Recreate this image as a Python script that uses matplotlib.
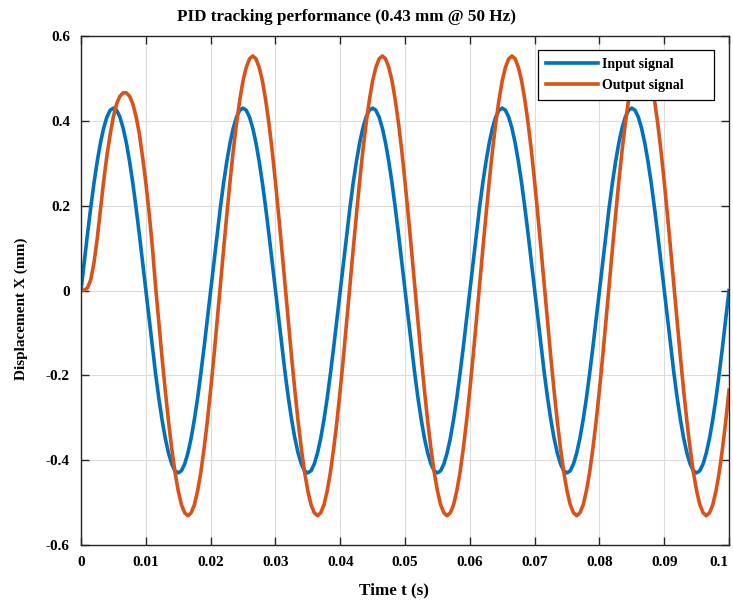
import numpy as np
import matplotlib
matplotlib.use('Agg')
import matplotlib.pyplot as plt

plt.rcParams['font.family'] = ['Liberation Serif', 'DejaVu Serif']
plt.rcParams['font.weight'] = 'bold'
plt.rcParams['axes.unicode_minus'] = False

# sampling grid of the recorded signals (0.5 ms step)
dt = 0.0005
n_samples = 201

# input signal (mm)
input_signal = [
    0.000, 0.067, 0.133, 0.195, 0.253, 0.304, 0.348, 0.383, 0.409, 0.425, 0.430, 0.425, 0.409, 0.383, 0.348, 0.304, 0.253, 0.195, 0.133, 0.067,
    0.000, -0.067, -0.133, -0.195, -0.253, -0.304, -0.348, -0.383, -0.409, -0.425, -0.430, -0.425, -0.409, -0.383, -0.348, -0.304, -0.253, -0.195, -0.133, -0.067,
    0.000, 0.067, 0.133, 0.195, 0.253, 0.304, 0.348, 0.383, 0.409, 0.425, 0.430, 0.425, 0.409, 0.383, 0.348, 0.304, 0.253, 0.195, 0.133, 0.067,
    0.000, -0.067, -0.133, -0.195, -0.253, -0.304, -0.348, -0.383, -0.409, -0.425, -0.430, -0.425, -0.409, -0.383, -0.348, -0.304, -0.253, -0.195, -0.133, -0.067,
    0.000, 0.067, 0.133, 0.195, 0.253, 0.304, 0.348, 0.383, 0.409, 0.425, 0.430, 0.425, 0.409, 0.383, 0.348, 0.304, 0.253, 0.195, 0.133, 0.067,
    0.000, -0.067, -0.133, -0.195, -0.253, -0.304, -0.348, -0.383, -0.409, -0.425, -0.430, -0.425, -0.409, -0.383, -0.348, -0.304, -0.253, -0.195, -0.133, -0.067,
    0.000, 0.067, 0.133, 0.195, 0.253, 0.304, 0.348, 0.383, 0.409, 0.425, 0.430, 0.425, 0.409, 0.383, 0.348, 0.304, 0.253, 0.195, 0.133, 0.067,
    0.000, -0.067, -0.133, -0.195, -0.253, -0.304, -0.348, -0.383, -0.409, -0.425, -0.430, -0.425, -0.409, -0.383, -0.348, -0.304, -0.253, -0.195, -0.133, -0.067,
    0.000, 0.067, 0.133, 0.195, 0.253, 0.304, 0.348, 0.383, 0.409, 0.425, 0.430, 0.425, 0.409, 0.383, 0.348, 0.304, 0.253, 0.195, 0.133, 0.067,
    0.000, -0.067, -0.133, -0.195, -0.253, -0.304, -0.348, -0.383, -0.409, -0.425, -0.430, -0.425, -0.409, -0.383, -0.348, -0.304, -0.253, -0.195, -0.133, -0.067,
    0.000,
]

# output signal (mm)
output_signal = [
    0.000, 0.001, 0.006, 0.025, 0.065, 0.122, 0.190, 0.258, 0.318, 0.368, 0.410, 0.440, 0.458, 0.466, 0.466, 0.458, 0.440, 0.410, 0.370, 0.315,
    0.255, 0.185, 0.105, 0.011, -0.074, -0.157, -0.235, -0.308, -0.372, -0.428, -0.472, -0.505, -0.524, -0.531, -0.524, -0.505, -0.472, -0.428, -0.372, -0.308,
    -0.235, -0.157, -0.074, 0.011, 0.096, 0.178, 0.257, 0.330, 0.394, 0.449, 0.494, 0.526, 0.546, 0.553, 0.546, 0.526, 0.494, 0.449, 0.394, 0.330,
    0.257, 0.178, 0.096, 0.011, -0.074, -0.157, -0.235, -0.308, -0.372, -0.428, -0.472, -0.505, -0.524, -0.531, -0.524, -0.505, -0.472, -0.428, -0.372, -0.308,
    -0.235, -0.157, -0.074, 0.011, 0.096, 0.178, 0.257, 0.330, 0.394, 0.449, 0.494, 0.526, 0.546, 0.553, 0.546, 0.526, 0.494, 0.449, 0.394, 0.330,
    0.257, 0.178, 0.096, 0.011, -0.074, -0.157, -0.235, -0.308, -0.372, -0.428, -0.472, -0.505, -0.524, -0.531, -0.524, -0.505, -0.472, -0.428, -0.372, -0.308,
    -0.235, -0.157, -0.074, 0.011, 0.096, 0.178, 0.257, 0.330, 0.394, 0.449, 0.494, 0.526, 0.546, 0.553, 0.546, 0.526, 0.494, 0.449, 0.394, 0.330,
    0.257, 0.178, 0.096, 0.011, -0.074, -0.157, -0.235, -0.308, -0.372, -0.428, -0.472, -0.505, -0.524, -0.531, -0.524, -0.505, -0.472, -0.428, -0.372, -0.308,
    -0.235, -0.157, -0.074, 0.011, 0.096, 0.178, 0.257, 0.330, 0.394, 0.449, 0.494, 0.526, 0.546, 0.553, 0.546, 0.526, 0.494, 0.449, 0.394, 0.330,
    0.257, 0.178, 0.096, 0.011, -0.074, -0.157, -0.235, -0.308, -0.372, -0.428, -0.472, -0.505, -0.524, -0.531, -0.524, -0.505, -0.472, -0.428, -0.372, -0.308,
    -0.235,
]

x_ticks = [0, 0.01, 0.02, 0.03, 0.04, 0.05, 0.06, 0.07, 0.08, 0.09, 0.1]
x_tick_labels = ['0', '0.01', '0.02', '0.03', '0.04', '0.05', '0.06', '0.07', '0.08', '0.09', '0.1']
y_ticks = [-0.6, -0.4, -0.2, 0, 0.2, 0.4, 0.6]
y_tick_labels = ['-0.6', '-0.4', '-0.2', '0', '0.2', '0.4', '0.6']

t = np.arange(n_samples) * dt

fig = plt.figure(figsize=(7.33, 6.04), dpi=100)
ax = fig.add_axes([81 / 733, 1 - 545 / 604, 648 / 733, 509 / 604])

ax.plot(t, input_signal, color='#0072BD', linewidth=2.6, label='Input signal')
ax.plot(t, output_signal, color='#D95319', linewidth=2.6, label='Output signal')

ax.set_xlim(0, 0.1)
ax.set_ylim(-0.6, 0.6)
ax.set_xticks(x_ticks)
ax.set_xticklabels(x_tick_labels)
ax.set_yticks(y_ticks)
ax.set_yticklabels(y_tick_labels)
ax.tick_params(direction='in', top=True, right=True, length=6, width=1,
               labelsize=11, colors='#262626', labelcolor='black', pad=8)
ax.get_xticklabels()[-1].set_horizontalalignment('right')
for s in ax.spines.values():
    s.set_color('#262626')
    s.set_linewidth(1)
ax.grid(True, color='#dcdcdc', linewidth=0.8)
ax.set_axisbelow(True)

ax.set_title('PID tracking performance (0.43 mm @ 50 Hz)', fontsize=12.3,
             fontweight='bold', x=0.409, pad=10.5)
ax.set_xlabel('Time t (s)', fontsize=12.3, fontweight='bold')
ax.xaxis.set_label_coords(0.483, -0.073)
ax.set_ylabel('Displacement X (mm)', fontsize=11, fontweight='bold')
ax.yaxis.set_label_coords(-0.082, 0.464)

leg = ax.legend(loc='upper left', bbox_to_anchor=(457 / 648, 490 / 509, 176 / 648, 5 / 509),
                mode='expand', borderaxespad=0, fancybox=False, framealpha=1,
                edgecolor='black', fontsize=10, handlelength=3.75, handletextpad=0.3,
                borderpad=0.55, labelspacing=0.62)
leg.get_frame().set_linewidth(0.9)

fig.savefig('out.png', dpi=100)
